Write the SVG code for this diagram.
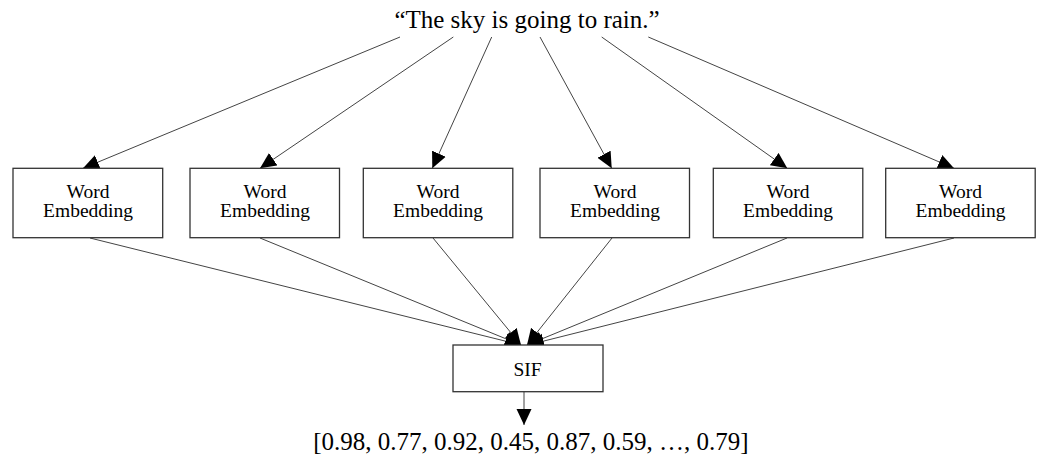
<svg xmlns="http://www.w3.org/2000/svg" width="1042" height="461" viewBox="0 0 1042 461">
<style>
.box{fill:#fff;stroke:#333;stroke-width:1.3}
.lbl{font-family:"Liberation Serif","Times New Roman",serif;font-size:19.5px;fill:#000;text-anchor:middle}
.big{font-family:"Liberation Serif","Times New Roman",serif;font-size:25px;fill:#000;text-anchor:middle}
.edge{stroke:#444;stroke-width:1;fill:none;marker-end:url(#ah)}
</style>
<defs>
<marker id="ah" markerUnits="userSpaceOnUse" markerWidth="16" markerHeight="16" viewBox="0 0 16 16" refX="16" refY="8" orient="auto">
<path d="M0,0.5 L16,8 L0,15.5 z" fill="#000"/>
</marker>
</defs>
<rect width="1042" height="461" fill="#fff"/>
<g id="sentence"><text class="big" x="527" y="28">“The sky is going to rain.”</text></g>
<g id="connectors">
<line class="edge" x1="400" y1="37" x2="83" y2="168.3"/>
<line class="edge" x1="453.3" y1="37" x2="260" y2="168.3"/>
<line class="edge" x1="491.7" y1="37" x2="432.3" y2="168.3"/>
<line class="edge" x1="540" y1="37" x2="611.7" y2="168.3"/>
<line class="edge" x1="601.7" y1="37" x2="787.3" y2="168.3"/>
<line class="edge" x1="648.3" y1="37" x2="954" y2="168.3"/>
<line class="edge" x1="90" y1="238" x2="521" y2="345"/>
<line class="edge" x1="260" y1="238" x2="521" y2="345"/>
<line class="edge" x1="433" y1="238" x2="521" y2="345"/>
<line class="edge" x1="612" y1="238" x2="527" y2="345"/>
<line class="edge" x1="787" y1="238" x2="527" y2="345"/>
<line class="edge" x1="954" y1="238" x2="528" y2="345"/>
<line class="edge" x1="524" y1="392" x2="524" y2="425"/>
</g>
<g id="we1"><rect class="box" x="13" y="168.3" width="149.7" height="69.4"/><text class="lbl" x="88" y="198">Word</text><text class="lbl" x="88" y="217">Embedding</text></g>
<g id="we2"><rect class="box" x="190" y="168.3" width="149.5" height="69.4"/><text class="lbl" x="265" y="198">Word</text><text class="lbl" x="265" y="217">Embedding</text></g>
<g id="we3"><rect class="box" x="363.3" y="168.3" width="149.5" height="69.4"/><text class="lbl" x="438" y="198">Word</text><text class="lbl" x="438" y="217">Embedding</text></g>
<g id="we4"><rect class="box" x="540" y="168.3" width="149.5" height="69.4"/><text class="lbl" x="615" y="198">Word</text><text class="lbl" x="615" y="217">Embedding</text></g>
<g id="we5"><rect class="box" x="713.3" y="168.3" width="149.5" height="69.4"/><text class="lbl" x="788" y="198">Word</text><text class="lbl" x="788" y="217">Embedding</text></g>
<g id="we6"><rect class="box" x="885.7" y="168.3" width="149.5" height="69.4"/><text class="lbl" x="960.5" y="198">Word</text><text class="lbl" x="960.5" y="217">Embedding</text></g>
<g id="sif"><rect class="box" x="453" y="345" width="150" height="46.7"/><text class="lbl" x="527.5" y="376">SIF</text></g>
<g id="output"><text class="big" x="531" y="450">[0.98, 0.77, 0.92, 0.45, 0.87, 0.59, …, 0.79]</text></g>
</svg>
